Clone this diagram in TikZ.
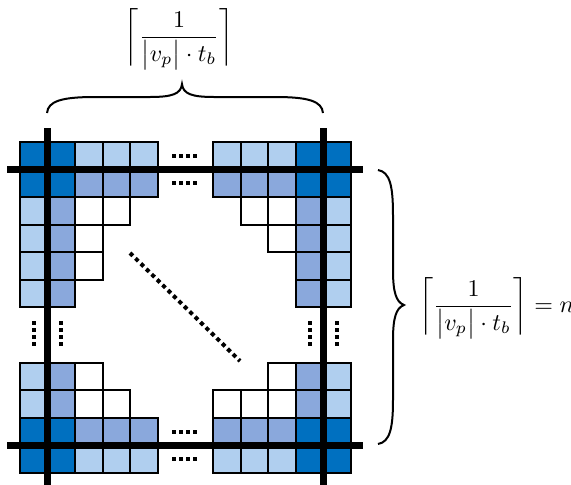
\documentclass[tikz,border=0pt]{standalone}
\usepackage{amsmath}
\definecolor{darkblue}{HTML}{0070C0}
\definecolor{lightpat}{HTML}{B0CFEF}
\definecolor{medpat}{HTML}{8AA8DC}
\tikzset{
  cellD/.style={fill=darkblue,draw=black,line width=2pt},
  cellL/.style={fill=lightpat,draw=black,line width=2pt},
  cellM/.style={fill=medpat,draw=black,line width=2pt},
  cellW/.style={fill=white,draw=black,line width=2pt},
  bar/.style={line width=7pt,line cap=butt},
  dotsq/.style={line width=4pt,dash pattern=on 4pt off 3pt},
  diagdots/.style={line width=4pt,dash pattern=on 4pt off 3.6pt},
  bracepath/.style={line width=2pt},
  lab/.style={inner sep=0pt,scale=2.4}
}
\newcommand\cellbox[3]{\path[cell#3] ({20+#1*27.58},{142+#2*27.58}) rectangle ++(27.58,27.58);}
\newcommand\ceilfrac{\biggl\lceil\dfrac{1}{\bigl|v_p\bigr|\cdot t_b}\biggr\rceil}
\begin{document}
\begin{tikzpicture}[x=1pt,y=-1pt]
\useasboundingbox (0,0) rectangle (571,485);
% cells
\foreach \c/\r/\t in {
 0/0/D,1/0/D,2/0/L,3/0/L,4/0/L,
 0/1/D,1/1/D,2/1/M,3/1/M,4/1/M,
 0/2/L,1/2/M,2/2/W,3/2/W,
 0/3/L,1/3/M,2/3/W,
 0/4/L,1/4/M,2/4/W,
 0/5/L,1/5/M,
 7/0/L,8/0/L,9/0/L,10/0/D,11/0/D,
 7/1/M,8/1/M,9/1/M,10/1/D,11/1/D,
 8/2/W,9/2/W,10/2/M,11/2/L,
 9/3/W,10/3/M,11/3/L,
 10/4/M,11/4/L,
 10/5/M,11/5/L,
 0/8/L,1/8/M,2/8/W,
 0/9/L,1/9/M,2/9/W,3/9/W,
 0/10/D,1/10/D,2/10/M,3/10/M,4/10/M,
 0/11/D,1/11/D,2/11/L,3/11/L,4/11/L,
 9/8/W,10/8/M,11/8/L,
 7/9/W,8/9/W,9/9/W,10/9/M,11/9/L,
 7/10/M,8/10/M,9/10/M,10/10/D,11/10/D,
 7/11/L,8/11/L,9/11/L,10/11/D,11/11/D}
 {\cellbox{\c}{\r}{\t}}
% thick bars
\coordinate (hA1) at (7,169.6);   \coordinate (hA2) at (363,169.6);
\coordinate (hB1) at (7,445.4);   \coordinate (hB2) at (363,445.4);
\coordinate (vA1) at (47.6,128);  \coordinate (vA2) at (47.6,485);
\coordinate (vB1) at (323.4,128); \coordinate (vB2) at (323.4,485);
\draw[bar] (hA1) -- (hA2);
\draw[bar] (hB1) -- (hB2);
\draw[bar] (vA1) -- (vA2);
\draw[bar] (vB1) -- (vB2);
% ellipsis dots
\foreach \y in {155.8,183.4,431.6,459.1} \draw[dotsq] (172,\y) -- (199,\y);
\foreach \x in {33.8,61.4,309.6,337.2} \draw[dotsq] (\x,321) -- (\x,348);
\draw[diagdots] (130,253) -- (240,361);
% top brace
\draw[bracepath] (47,113) .. controls (48,101) and (62,97) .. (95,97) -- (150,97)
  .. controls (172,97) and (181,94) .. (182,84)
  .. controls (183,94) and (192,97) .. (214,97) -- (275,97)
  .. controls (308,97) and (322,101) .. (323,113);
% right brace
\draw[bracepath] (378,170) .. controls (390,172) and (393,186) .. (393,215) -- (393,270)
  .. controls (393,292) and (396,302) .. (404,305)
  .. controls (396,308) and (393,318) .. (393,340) -- (393,400)
  .. controls (393,428) and (390,442) .. (378,444);
% labels
\node[lab] (toplab) at (179,39) {$\ceilfrac$};
\node[lab,anchor=west] (rightlab) at (419,308) {$\ceilfrac=n$};
\end{tikzpicture}
\end{document}
